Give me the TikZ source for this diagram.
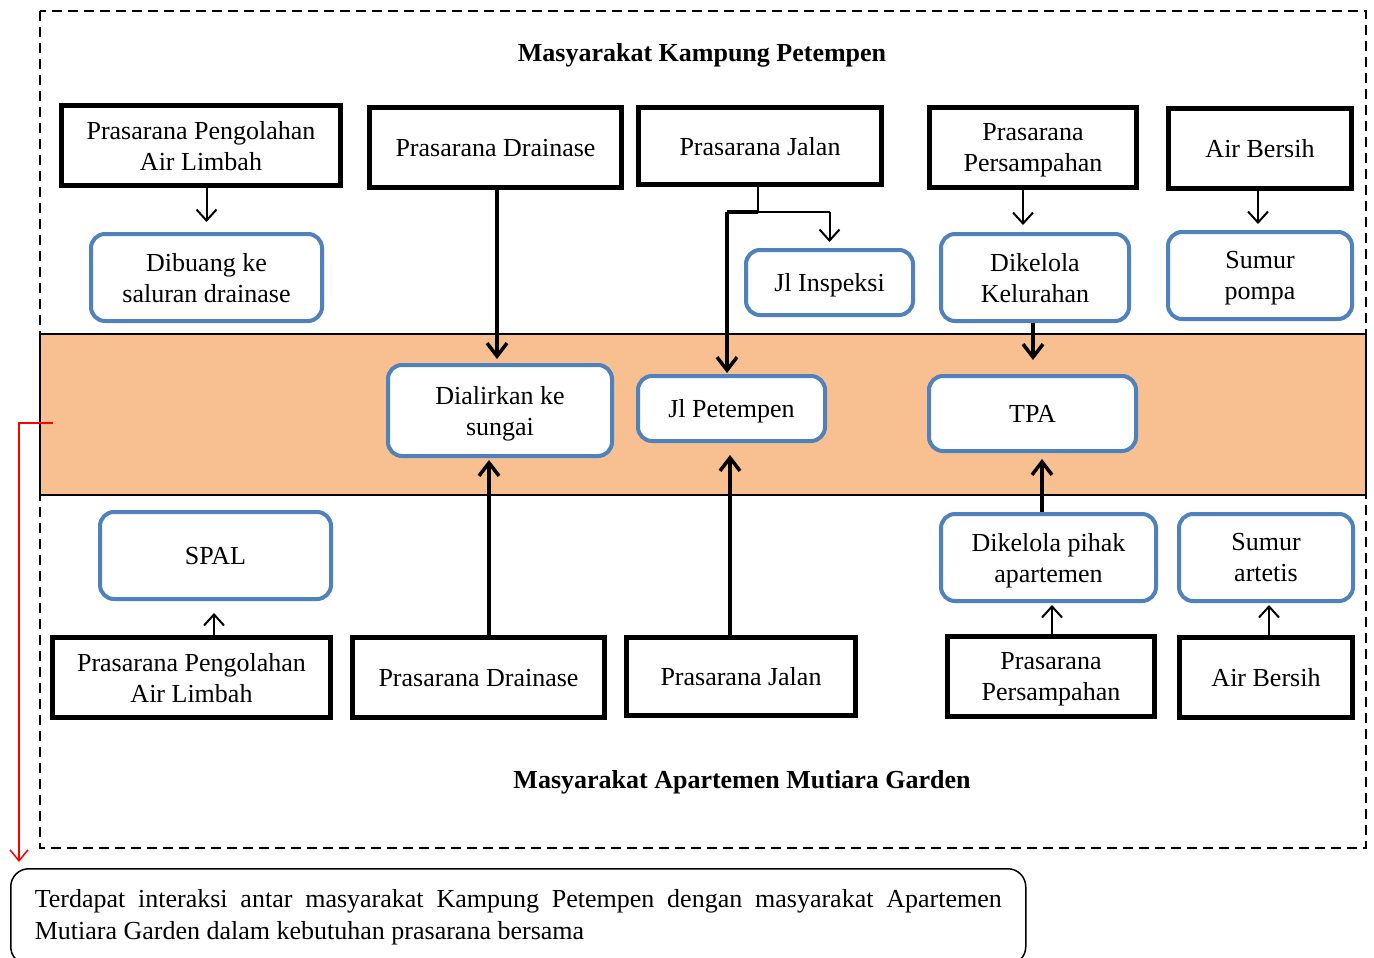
\documentclass[tikz,border=0pt]{standalone}
\usepackage{fontspec}
\setmainfont{Liberation Serif}
\usetikzlibrary{arrows.meta}
\definecolor{bandfill}{RGB}{248,192,144}
\definecolor{boxblue}{RGB}{79,129,189}
\begin{document}
\begin{tikzpicture}[x=1pt,y=-1pt,
  every node/.style={font=\fontsize{26}{31}\selectfont, align=center, inner sep=0pt, text depth=0pt},
  blackbox/.style={draw=black, line width=5pt, fill=white},
  bluebox/.style={draw=boxblue, line width=4pt, rounded corners=14pt, fill=white},
  twoline/.style={execute at begin node={\vspace*{4pt}}},
  thinarrow/.style={line width=2pt, -{Straight Barb[length=11pt,width=20pt]}},
  thickarrow/.style={line width=3.5pt, -{Straight Barb[length=13pt,width=20pt]}},
  plainline/.style={line width=2pt},
  thickline/.style={line width=3.5pt},
  redarrow/.style={draw=red, line width=1.5pt, -{Straight Barb[length=11pt,width=18pt]}},
  titletext/.style={font=\fontsize{26}{31}\selectfont\bfseries},
  notebox/.style={draw=black, line width=1.5pt, rounded corners=18pt, fill=white, align=justify, text width=967pt, inner xsep=24pt, font=\fontsize{26}{32}\selectfont}
]
\useasboundingbox (0,0) rectangle (1374,958);
% outer dashed frame
\draw[line width=1.5pt, dash pattern=on 10pt off 6pt] (40,11) rectangle (1366,848);
% shared band
\draw[fill=bandfill, line width=1.5pt] (40,334) rectangle (1366,495);

% titles
\node[titletext] (ttop) at (702,52) {Masyarakat Kampung Petempen};
\node[titletext] (tbot) at (742,779) {Masyarakat Apartemen Mutiara Garden};

% top black boxes
\node[blackbox, twoline, minimum width=279, minimum height=80] (ppalT) at (201,145.5) {Prasarana Pengolahan\\Air Limbah};
\node[blackbox, minimum width=252, minimum height=80] (pdT) at (495.5,147.5) {Prasarana Drainase};
\node[blackbox, minimum width=243, minimum height=77] (pjT) at (760,146) {Prasarana Jalan};
\node[blackbox, twoline, minimum width=207, minimum height=80] (ppT) at (1033,147.5) {Prasarana\\Persampahan};
\node[blackbox, minimum width=183, minimum height=80] (abT) at (1260,148.5) {Air Bersih};

% top blue boxes
\node[bluebox, twoline, minimum width=231, minimum height=87] (dibuang) at (206.5,277.5) {Dibuang ke\\saluran drainase};
\node[bluebox, minimum width=167, minimum height=65] (inspeksi) at (829.5,282.5) {Jl Inspeksi};
\node[bluebox, twoline, minimum width=188, minimum height=87] (kelurahan) at (1035,277.5) {Dikelola\\Kelurahan};
\node[bluebox, twoline, minimum width=184, minimum height=87] (pompa) at (1260,275.5) {Sumur\\pompa};

% band boxes
\node[bluebox, twoline, minimum width=224, minimum height=91] (sungai) at (500,410.5) {Dialirkan ke\\sungai};
\node[bluebox, minimum width=187, minimum height=65] (petempen) at (731.5,408.5) {Jl Petempen};
\node[bluebox, minimum width=207, minimum height=75] (tpa) at (1032.5,413.5) {TPA};

% bottom blue boxes
\node[bluebox, minimum width=231, minimum height=87] (spal) at (215.5,555.5) {SPAL};
\node[bluebox, twoline, minimum width=215, minimum height=87] (apartemen) at (1048.5,557.5) {Dikelola pihak\\apartemen};
\node[bluebox, twoline, minimum width=174, minimum height=87] (artetis) at (1266,557.5) {Sumur\\artetis};

% bottom black boxes
\node[blackbox, twoline, minimum width=278, minimum height=80] (ppalB) at (191.5,677.5) {Prasarana Pengolahan\\Air Limbah};
\node[blackbox, minimum width=252, minimum height=80] (pdB) at (478.5,677.5) {Prasarana Drainase};
\node[blackbox, minimum width=229, minimum height=78] (pjB) at (741,676.5) {Prasarana Jalan};
\node[blackbox, twoline, minimum width=207, minimum height=80] (ppB) at (1051,676.5) {Prasarana\\Persampahan};
\node[blackbox, minimum width=173, minimum height=80] (abB) at (1266,677.5) {Air Bersih};

% note box
\node[notebox, minimum height=96, anchor=north west, text depth=] (note) at (10,868)
  {Terdapat interaksi antar masyarakat Kampung Petempen dengan masyarakat Apartemen\linebreak Mutiara Garden dalam kebutuhan prasarana bersama};

% top arrows
\draw[thinarrow, shorten >=10pt] (dibuang.north |- ppalT.south) -- (dibuang.north);
\draw[thickarrow, shorten >=4pt] ([xshift=1.5pt]pdT.south) -- ([xshift=1.5pt]pdT.south |- sungai.north);
\coordinate (pjsplit) at (758,212);
\draw[plainline] ([xshift=-2pt]pjT.south) -- (pjsplit);
\draw[plainline] (pjsplit) -- (pjsplit -| inspeksi.north);
\draw[thinarrow, shorten >=6pt] (pjsplit -| inspeksi.north) -- (inspeksi.north);
\draw[thickline] (pjsplit) -- ([xshift=-4.5pt]pjsplit -| petempen.north);
\draw[thickarrow, shorten >=1pt] ([xshift=-4.5pt]pjsplit -| petempen.north) -- ([xshift=-4.5pt]petempen.north);
\draw[thinarrow, shorten >=7pt] ([xshift=-10pt]ppT.south) -- ([xshift=-10pt]ppT.south |- kelurahan.north);
\draw[thinarrow, shorten >=6pt] ([xshift=-2pt]abT.south) -- ([xshift=-2pt]abT.south |- pompa.north);
\draw[thickarrow, shorten >=14pt] ([xshift=-2pt]kelurahan.south) -- ([xshift=-2pt]kelurahan.south |- tpa.north);

% bottom arrows
\draw[thickarrow, shorten >=2pt] ([xshift=10.5pt]pdB.north) -- ([xshift=10.5pt]pdB.north |- sungai.south);
\draw[thickarrow, shorten >=12pt] ([xshift=-1.5pt]pjB.north -| petempen.south) -- ([xshift=-1.5pt]petempen.south);
\draw[thickarrow, shorten >=6pt] ([xshift=-6.5pt]apartemen.north) -- ([xshift=-6.5pt]apartemen.north |- tpa.south);
\draw[thinarrow, shorten >=12pt] ([xshift=-1.5pt]ppalB.north -| spal.south) -- ([xshift=-1.5pt]spal.south);
\draw[thinarrow, shorten >=2pt] ([xshift=1pt]ppB.north) -- ([xshift=1pt]ppB.north |- apartemen.south);
\draw[thinarrow, shorten >=2pt] ([xshift=3pt]abB.north) -- ([xshift=3pt]abB.north |- artetis.south);

% red link
\coordinate (redstart) at (53,423);
\draw[redarrow] (redstart) -| ([xshift=9pt,yshift=6pt]note.north west);
\end{tikzpicture}
\end{document}
